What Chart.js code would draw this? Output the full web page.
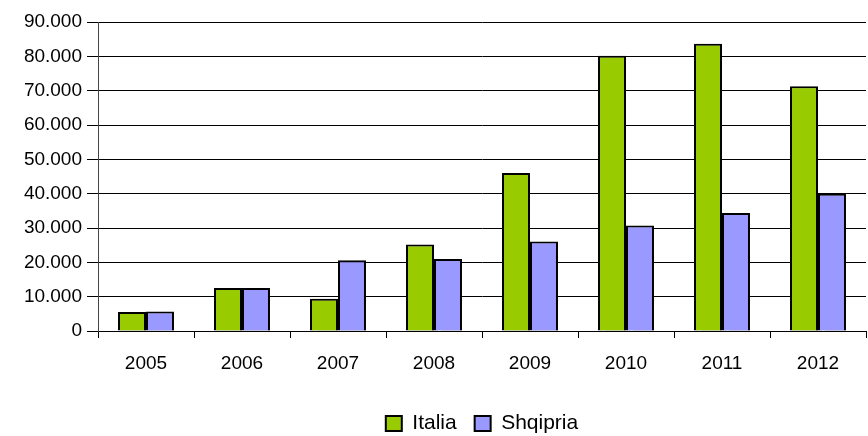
<!DOCTYPE html>
<html>
<head>
<meta charset="utf-8">
<script src="https://cdn.jsdelivr.net/npm/chart.js@4/dist/chart.umd.min.js"></script>
<style>
html,body{margin:0;padding:0;background:#fff;}
#wrap{width:868px;height:436px;position:relative;}
</style>
</head>
<body>
<div id="wrap"><canvas id="c" width="868" height="436"></canvas></div>
<script>
const categories = ['2005','2006','2007','2008','2009','2010','2011','2012'];
const italia = [5500, 12500, 9400, 25200, 46000, 80200, 83700, 71300];
const shqipria = [5700, 12500, 20600, 21000, 26100, 30700, 34400, 40000];
const seriesNames = ['Italia', 'Shqipria'];

const shadowPlugin = {
  id: 'barShadow',
  beforeDatasetsDraw(chart) {
    const ctx = chart.ctx;
    ctx.save();
    ctx.shadowColor = 'rgba(0,0,0,0.35)';
    ctx.shadowOffsetX = 2;
    ctx.shadowOffsetY = 2;
    ctx.shadowBlur = 1;
  },
  afterDatasetsDraw(chart) {
    chart.ctx.restore();
  }
};

Chart.defaults.font.family = '"Liberation Sans", Arial, sans-serif';
Chart.defaults.font.size = 19;
Chart.defaults.color = '#000';

new Chart(document.getElementById('c'), {
  type: 'bar',
  data: {
    labels: categories,
    datasets: [
      { label: seriesNames[0], data: italia, backgroundColor: '#99CC00', borderColor: '#000', borderWidth: 2,
        categoryPercentage: 0.583, barPercentage: 1.0 },
      { label: seriesNames[1], data: shqipria, backgroundColor: '#9999FF', borderColor: '#000', borderWidth: 2,
        categoryPercentage: 0.583, barPercentage: 1.0 }
    ]
  },
  options: {
    responsive: false,
    animation: false,
    devicePixelRatio: 1,
    layout: { padding: { left: 0, right: 2, top: 22, bottom: -8 } },
    plugins: {
      legend: {
        position: 'bottom',
        fullSize: false,
        labels: {
          boxWidth: 16, boxHeight: 15, padding: 18,
          color: '#000', font: { size: 21 },
          generateLabels(chart) {
            return chart.data.datasets.map((ds, i) => ({
              text: ds.label, fillStyle: ds.backgroundColor, strokeStyle: '#000',
              lineWidth: 2, datasetIndex: i, hidden: false
            }));
          }
        }
      },
      tooltip: { enabled: false }
    },
    scales: {
      x: {
        grid: { display: true, drawOnChartArea: false, drawTicks: true, tickLength: 7, color: '#000', offset: true },
        border: { color: '#000', width: 1 },
        ticks: { color: '#000', font: { size: 19 }, padding: 14, maxRotation: 0 },
        afterFit(scale) { scale.height = 64; }
      },
      y: {
        min: 0, max: 90000,
        grid: { color: '#000', lineWidth: 1, tickLength: 11, drawTicks: true },
        border: { color: '#444', width: 1 },
        ticks: {
          stepSize: 10000, color: '#000', font: { size: 19 }, padding: 5,
          callback: v => v === 0 ? '0' : (v / 1000).toFixed(0) + '.000'
        },
        afterFit(scale) { scale.width = 98; }
      }
    }
  },
  plugins: [shadowPlugin]
});
</script>
</body>
</html>
